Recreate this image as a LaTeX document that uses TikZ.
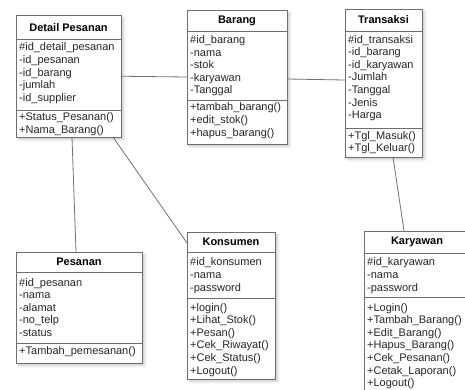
\documentclass[tikz,border=0pt]{standalone}
\usepackage{fontspec}
\setmainfont{Liberation Sans}
\usetikzlibrary{shadows.blur}

\definecolor{edge}{HTML}{6E6E6E}
\definecolor{ink}{HTML}{262626}
\definecolor{wire}{HTML}{707070}

\tikzset{
  classbox/.style={draw=edge, line width=0.9pt, fill=white, inner sep=0pt, outer sep=0pt,
    anchor=north west,
    blur shadow={shadow xshift=2.5pt, shadow yshift=-2.5pt, shadow blur radius=2.5pt, shadow opacity=22}},
  rule/.style={draw=edge, line width=0.9pt},
  classtitle/.style={font=\fontsize{11}{12.6}\selectfont\bfseries, text=black, inner sep=0pt},
  members/.style={font=\fontsize{11}{12.6}\selectfont, text=ink, align=left,
    anchor=north west, inner sep=0pt},
  assoc/.style={draw=wire, line width=0.8pt},
}

% #1 name, #2 left, #3 top, #4 right, #5 header bottom, #6 divider, #7 bottom, #8 title
\newcommand\classframe[8]{%
  \node[classbox, minimum width={(#4-#2)*1pt}, minimum height={(#7-#3)*1pt}] (#1) at (#2,-#3) {};
  \draw[rule] (#2,-#5) -- (#4,-#5);
  \draw[rule] (#2,-#6) -- (#4,-#6);
  \node[classtitle] (#1-name) at ({(#2+#4)/2},{-(#3+#5)/2}) {#8};
}

\begin{document}
\begin{tikzpicture}[x=1pt,y=1pt]
\useasboundingbox (0,0) rectangle (465,-389);

% Detail Pesanan
\classframe{detail}{16}{15.5}{121}{39}{110}{137}{Detail Pesanan}
\node[members] (detail-attrs) at (19,-42.7)
  {\#id\_detail\_pesanan\\-id\_pesanan\\-id\_barang\\-jumlah\\-id\_supplier};
\node[members] (detail-ops) at (19,-112.7)
  {+Status\_Pesanan()\\+Nama\_Barang()};

% Barang
\classframe{barang}{187}{10}{287}{31}{100}{144}{Barang}
\node[members] (barang-attrs) at (190,-35.3)
  {\#id\_barang\\-nama\\-stok\\-karyawan\\-Tanggal};
\node[members] (barang-ops) at (190,-102.7)
  {+tambah\_barang()\\+edit\_stok()\\+hapus\_barang()};

% Transaksi
\classframe{transaksi}{345}{9}{422}{31}{128}{157}{Transaksi}
\node[members] (transaksi-attrs) at (348,-35)
  {\#id\_transaksi\\-id\_barang\\-id\_karyawan\\-Jumlah\\-Tanggal\\-Jenis\\-Harga};
\node[members] (transaksi-ops) at (348,-131)
  {+Tgl\_Masuk()\\+Tgl\_Keluar()};

% Pesanan
\classframe{pesanan}{16}{252}{142}{272}{343}{363}{Pesanan}
\node[members] (pesanan-attrs) at (19,-278)
  {\#id\_pesanan\\-nama\\-alamat\\-no\_telp\\-status};
\node[members] (pesanan-ops) at (19,-346)
  {+Tambah\_pemesanan()};

% Konsumen
\classframe{konsumen}{187}{232}{275}{252}{298}{379}{Konsumen}
\node[members] (konsumen-attrs) at (190,-257.7)
  {\#id\_konsumen\\-nama\\-password};
\node[members] (konsumen-ops) at (190,-303)
  {+login()\\+Lihat\_Stok()\\+Pesan()\\+Cek\_Riwayat()\\+Cek\_Status()\\+Logout()};

% Karyawan
\classframe{karyawan}{364}{231}{470}{253}{297}{393}{Karyawan}
\node[members] (karyawan-attrs) at (367,-257.7)
  {\#id\_karyawan\\-nama\\-password};
\node[members] (karyawan-ops) at (367,-303)
  {+Login()\\+Tambah\_Barang()\\+Edit\_Barang()\\+Hapus\_Barang()\\+Cek\_Pesanan()\\+Cetak\_Laporan()\\+Logout()};

% Associations
\draw[assoc] (detail.east) -- (barang.west);
\draw[assoc] ([yshift=-2pt]barang.east) -- ([yshift=3pt]transaksi.west);
\draw[assoc] ([xshift=3.5pt]detail.south) -- ([xshift=-3pt]pesanan.north);
\draw[assoc] ([xshift=-8pt]detail.south east) -- ([yshift=-11pt]konsumen.north west);
\draw[assoc] ([xshift=9.5pt]transaksi.south) -- ([xshift=-13pt]karyawan.north);
\end{tikzpicture}
\end{document}
